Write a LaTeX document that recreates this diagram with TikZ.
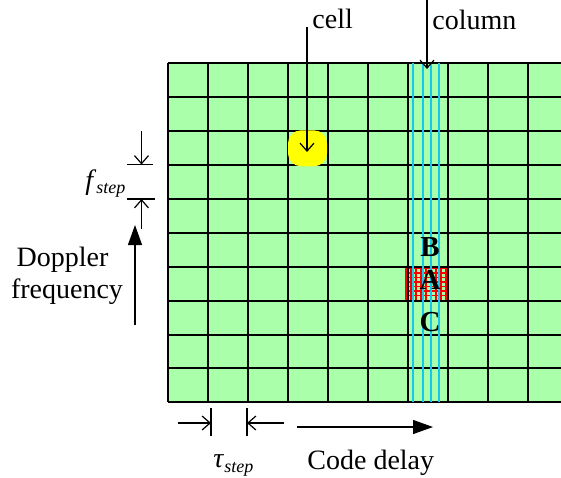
\documentclass[tikz,border=0pt]{standalone}
\usepackage{fontspec}
\setmainfont{Liberation Serif}
\usetikzlibrary{arrows.meta,calc,positioning}
\definecolor{gridgreen}{RGB}{170,255,170}
\definecolor{columncyan}{RGB}{20,200,240}
\definecolor{cellyellow}{RGB}{255,255,0}
\tikzset{
  grid line/.style={black,line width=1pt},
  column line/.style={columncyan,line width=0.9pt},
  hatch line/.style={red,line width=0.6pt},
  cell mark/.style={fill=cellyellow,rounded corners=6.5pt,minimum width=19.5pt,
    minimum height=18pt,inner sep=0pt},
  pointer edge/.style={-{Straight Barb[length=4pt,width=7pt]},line width=0.6pt},
  axis edge/.style={-{Triangle[length=10pt,width=7pt]},line width=0.6pt},
  step tick/.style={line width=0.6pt},
  axis label/.style={font=\fontsize{14}{16}\selectfont,inner sep=0pt},
  cell letter/.style={font=\fontsize{14.5}{16}\selectfont\bfseries,inner sep=0pt}
}

\begin{document}
\begin{tikzpicture}[x=0.5pt,y=-0.5pt]
     \useasboundingbox (0,0) rectangle (561,477);
     % search grid, cut at the right edge
     \begin{scope}
       \clip (0,0) rectangle (561,477);
       \fill[gridgreen] (168,63.3) rectangle (600,402.3);
       \foreach \hx in {406,411,...,446}
         \draw[hatch line] (\hx,266.5) -- (\hx,300.5);
       \foreach \hy in {268.5,273,...,298}
         \draw[hatch line] (405,\hy) -- (447,\hy);
       \foreach \i in {0,...,10}
         \draw[grid line] (168+40*\i,63.3) -- (168+40*\i,402.3);
       \foreach \j in {0,...,10}
         \draw[grid line] (168,63.3+33.9*\j) -- (600,63.3+33.9*\j);
       \foreach \cx in {413.3,422.7,431.3,439.3}
         \draw[column line] (\cx,63.3) -- (\cx,402.3);
     \end{scope}
     \node[cell mark] (cellmark) at (307.5,148.3) {};
     \node[cell letter,anchor=base] (cellB) at (430,256) {B};
     \node[cell letter,anchor=base] (cellA) at (430,289.5) {A};
     \node[cell letter,anchor=base] (cellC) at (430,331) {C};
     % pointers from the top
     \node[axis label,anchor=base west] (celltext) at (312,28) {cell};
     \node[axis label,anchor=base west] (columntext) at (432,29) {column};
     \coordinate (celltop) at (307,27);
     \coordinate (celltip) at (307,152);
     \coordinate (columntop) at (427,0);
     \coordinate (columntip) at (427,69);
     \draw[pointer edge] (celltop) -- (celltip);
     \draw[pointer edge] (columntop) -- (columntip);
     % doppler step
     \coordinate (fupper) at (141.5,164.5);
     \coordinate (flower) at (141.5,199);
     \draw[step tick] (127,164.5) -- (153,164.5);
     \draw[step tick] (127,199) -- (155,199);
     \draw[pointer edge] ($(fupper)+(0,-33.5)$) -- (fupper);
     \draw[pointer edge] ($(flower)+(0,30)$) -- (flower);
     \node[axis label,anchor=base west] (fstep) at (85,189)
       {\textit{f}\raisebox{-0.35ex}{\fontsize{9}{10}\selectfont\textit{step}}};
     \node[axis label,anchor=base] (doppler) at (62.5,266) {Doppler};
     \node[axis label,anchor=base] (frequency) at (67,298) {frequency};
     \coordinate (dopplerbottom) at (135,325);
     \coordinate (dopplertop) at (135,225);
     \draw[axis edge] (dopplerbottom) -- (dopplertop);
     % code delay step
     \coordinate (tleft) at (211,423);
     \coordinate (tright) at (247,423);
     \draw[step tick] (211,408) -- (211,436);
     \draw[step tick] (247,408) -- (247,436);
     \draw[pointer edge] ($(tleft)+(-33,0)$) -- (tleft);
     \draw[pointer edge] ($(tright)+(37,0)$) -- (tright);
     \node[axis label,anchor=base west] (taustep) at (213,467)
       {\textit{τ}\raisebox{-0.45ex}{\fontsize{9}{10}\selectfont\textit{step}}};
     \node[axis label,anchor=base west] (codedelay) at (307,469) {Code delay};
     \coordinate (delaystart) at (297,427);
     \coordinate (delayend) at (433,427);
     \draw[axis edge] (delaystart) -- (delayend);
   \end{tikzpicture}
\end{document}
